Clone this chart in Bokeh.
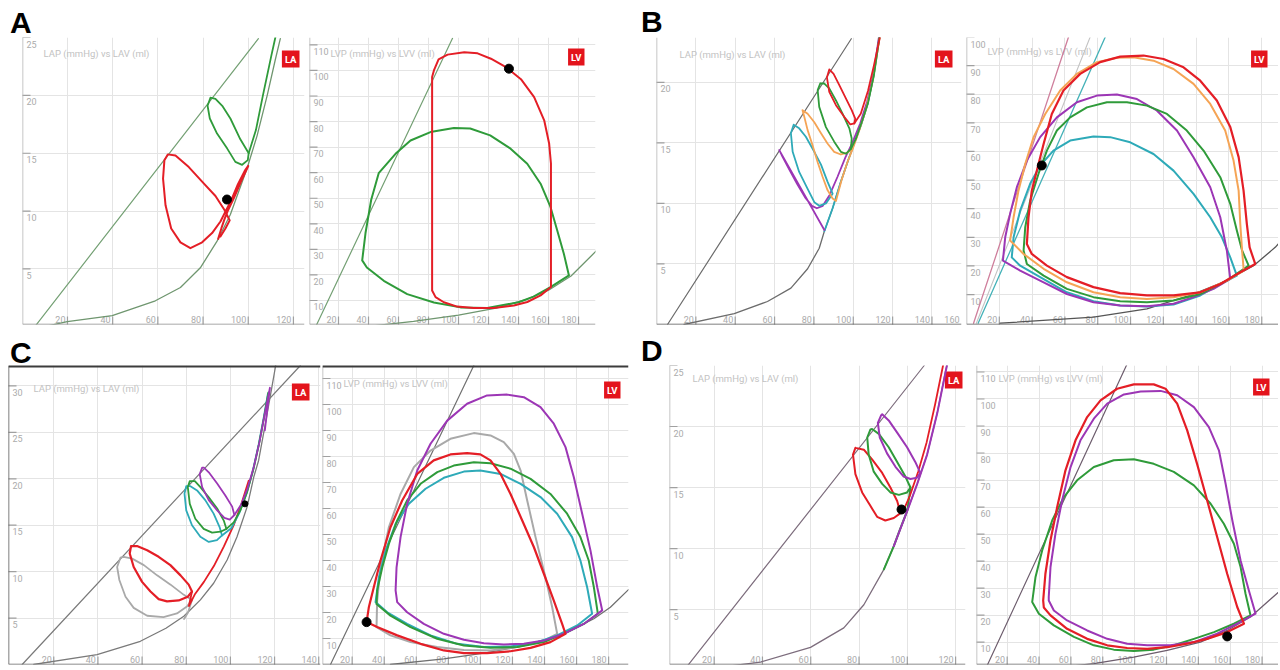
import math
from bokeh.plotting import figure
from bokeh.layouts import column, row
from bokeh.models import Div, Span, FixedTicker, Range1d
from bokeh.core.properties import value
from bokeh.embed import file_html
from bokeh.resources import INLINE

# ---------------- tick values ----------------
LA_X_TICKS_A = [20, 40, 60, 80, 100, 120]
LA_Y_TICKS_A = [5, 10, 15, 20, 25]
LV_X_TICKS = [20, 40, 60, 80, 100, 120, 140, 160, 180]
LV_Y_TICKS_110 = [10, 20, 30, 40, 50, 60, 70, 80, 90, 100, 110]
LV_Y_TICKS_100 = [10, 20, 30, 40, 50, 60, 70, 80, 90, 100]
LA_X_TICKS_B = [20, 40, 60, 80, 100, 120, 140, 160]
LA_Y_TICKS_B = [5, 10, 15, 20]
LA_X_TICKS_C = [20, 40, 60, 80, 100, 120, 140]
LA_Y_TICKS_C = [5, 10, 15, 20, 25, 30]
LA_X_TICKS_D = [20, 40, 60, 80, 100, 120]
LA_Y_TICKS_D = [5, 10, 15, 20, 25]

# ---------------- panel A ----------------
A_LA_ESPVR = [(5.5, 0.0), (104.5, 24.9)]
A_LA_EDPVR = [(9.5, 0.0), (19.9, 0.45), (39.8, 0.97), (58.9, 2.25), (70.0, 3.4), (78.8, 5.1),
              (86.2, 7.4), (92.1, 9.7), (99.5, 13.7), (103.9, 16.5), (108.4, 20.0), (112.0, 23.1), (114.2, 24.9)]
A_LA_GREEN = [(83.3, 19.8), (82.0, 19.1), (83.0, 18.0), (86.2, 16.7), (90.7, 15.4), (94.3, 14.25), (97.3, 14.0),
              (99.8, 14.4), (100.2, 15.0), (96.5, 16.2), (92.1, 18.0), (88.5, 19.1), (85.5, 19.7), (83.3, 19.8)]
A_LA_GREEN_FILL = [(100.2, 15.0), (103.4, 17.0), (106.5, 20.0), (110.3, 23.5), (112.0, 25.0)]
A_LA_RED = [(86.7, 7.6), (88.1, 8.5), (89.5, 9.3), (90.9, 10.0), (93.6, 11.1), (96.9, 12.6), (100.0, 13.9),
            (98.5, 13.5), (95.4, 12.3), (92.4, 10.9), (90.0, 10.0), (87.7, 9.1), (84.0, 8.1), (79.6, 7.3),
            (74.4, 6.8), (70.0, 7.3), (65.9, 8.5), (63.4, 10.5), (62.3, 12.8), (62.9, 14.4), (64.4, 14.9),
            (67.8, 14.8), (73.7, 13.8), (80.3, 12.4), (85.5, 11.3), (89.5, 10.1), (91.8, 9.2), (89.9, 8.5), (87.7, 7.8)]
A_LA_DOT = [(90.6, 11.0)]

A_LV_ESPVR = [(5.0, 0.0), (96.0, 112.6)]
A_LV_EDPVR = [(42, 0.0), (70, 1.8), (100, 4.3), (125, 7.0), (145, 10.3), (160, 14.0), (175, 19.6), (192, 29.5)]
A_LV_GREEN = [(35.8, 25.7), (38.0, 36.4), (41.8, 49.4), (46.8, 59.8), (58.0, 67.4), (68.0, 72.6), (81.3, 75.9),
              (96.9, 77.5), (107.8, 77.3), (121.1, 74.6), (134.7, 69.4), (145.8, 63.5), (154.7, 55.7),
              (161.3, 46.6), (165.8, 37.4), (170.2, 28.3), (173.6, 19.8), (161.6, 15.3), (150.0, 11.5),
              (140.0, 9.3), (119.1, 7.1), (101.3, 7.3), (83.6, 9.2), (65.8, 12.5), (50.2, 17.7), (38.9, 22.9), (35.8, 25.7)]
A_LV_RED = [(82.4, 13.9), (82.4, 97.4), (83.6, 100.0), (86.7, 104.3), (92.7, 106.2), (103.8, 107.1),
            (112.7, 106.7), (121.6, 104.6), (131.6, 101.3), (141.6, 96.6), (150.4, 89.6), (157.1, 80.5),
            (160.4, 71.4), (161.6, 63.6), (161.6, 15.3), (154.7, 12.0), (145.8, 9.4), (136.9, 8.0),
            (123.6, 7.1), (110.2, 7.1), (99.1, 7.6), (90.2, 9.3), (84.7, 11.3), (82.4, 13.9)]
A_LV_DOT = [(133.6, 100.7)]

# ---------------- panel B ----------------
B_LA_ESPVR = [(5.6, 0.0), (99.0, 23.6)]
B_LA_EDPVR = [(14, 0.0), (39.5, 0.9), (56.4, 1.9), (68.3, 3.0), (76.8, 4.6), (82.7, 6.3), (85.3, 7.7),
              (89.5, 9.6), (93.5, 11.7), (97.5, 13.6), (100.8, 15.1), (104.0, 16.5), (107.3, 18.2),
              (110.3, 20.5), (113.2, 23.7)]
B_LA_TEAL_FILL = [(85.3, 7.7), (89.5, 9.6), (93.5, 11.7), (97.5, 13.6), (100.8, 15.1), (104.0, 16.5),
                  (107.3, 18.2), (110.3, 20.5), (113.2, 23.7)]
B_LA_PURPLE = [(85.3, 7.8), (62.4, 14.4), (63.6, 14.0), (67.5, 12.8), (71.5, 11.6), (75.5, 10.5), (79.0, 9.8),
               (81.5, 9.6), (84.5, 9.8), (88.0, 10.7), (92.0, 12.2), (96.0, 13.8), (99.5, 15.0),
               (103.5, 16.6), (107.0, 18.4), (110.2, 20.6), (113.0, 23.7)]
B_LA_TEAL = [(69.7, 16.5), (68.3, 15.8), (69.2, 14.26), (72.5, 12.6), (76.8, 11.2), (80.2, 10.1), (82.7, 9.8),
             (86.1, 10.0), (89.5, 10.8), (86.9, 11.8), (83.6, 13.2), (80.2, 14.26), (75.9, 15.5), (72.5, 16.2), (69.7, 16.5)]
B_LA_ORANGE = [(99.7, 14.5), (97.0, 13.4), (94.0, 11.9), (91.2, 10.2), (89.5, 10.4), (86.9, 11.1), (84.4, 12.2),
               (81.9, 13.4), (79.3, 14.8), (76.8, 16.05), (75.1, 17.15), (74.2, 17.7), (76.8, 17.4), (80.2, 16.7),
               (83.6, 15.8), (86.9, 14.95), (90.3, 14.26), (93.7, 14.04), (97.1, 14.2), (99.7, 14.5),
               (103.0, 16.0), (106.5, 17.8), (110.0, 20.2), (113.4, 23.7)]
B_LA_GREEN = [(83.2, 19.9), (81.9, 19.35), (82.7, 17.97), (86.1, 16.3), (90.3, 15.1), (93.7, 14.26), (96.3, 14.1),
              (98.8, 14.5), (99.2, 15.36), (98.0, 16.2), (94.6, 17.4), (91.2, 18.5), (87.8, 19.5), (85.3, 19.9), (83.2, 19.9)]
B_LA_GREEN_FILL = [(98.8, 14.5), (101.5, 15.4), (104.5, 16.8), (107.5, 18.3), (110.5, 20.6), (113.3, 23.7)]
B_LA_RED = [(87.8, 21.06), (86.6, 20.4), (87.8, 19.21), (91.2, 18.11), (95.4, 17.15), (98.5, 16.52), (100.5, 16.6),
            (101.0, 17.0), (99.2, 17.7), (96.3, 18.66), (92.9, 19.76), (90.0, 20.7), (87.8, 21.06)]
B_LA_RED_FILL = [(100.5, 16.6), (103.8, 17.4), (107.5, 19.3), (110.5, 21.4), (113.5, 23.7)]

B_LV_ESPVR_PINK = [(4.3, 0.0), (62.2, 100.0)]
B_LV_ESPVR_GREY = [(6.0, 0.0), (75.4, 100.0)]
B_LV_ESPVR_TEAL = [(7.1, 0.0), (84.6, 100.0)]
B_LV_EDPVR = [(20.5, 0.0), (77.4, 2.1), (110.0, 5.0), (138.4, 10.2), (158.7, 14.9), (175.0, 20.1), (188.2, 26.5),
              (192.0, 29.0)]
B_LV_TEAL = [(27.6, 23.0), (28.7, 30.0), (32.7, 39.3), (38.8, 48.7), (44.9, 55.1), (53.0, 60.3), (63.2, 63.8),
             (77.4, 65.2), (87.6, 65.0), (99.8, 63.2), (114.0, 59.1), (126.2, 53.3), (138.4, 45.2), (148.6, 37.0),
             (155.7, 30.0), (160.8, 23.0), (164.8, 16.6), (154.7, 13.7), (142.5, 9.7), (126.2, 6.5), (110.0, 5.8),
             (93.7, 6.2), (77.4, 7.7), (61.2, 10.8), (44.9, 16.1), (32.7, 20.1), (27.6, 23.0)]
B_LV_PURPLE = [(22.2, 21.9), (23.6, 30.0), (26.6, 38.2), (30.7, 47.5), (36.8, 56.8), (44.9, 65.0), (55.1, 71.9),
               (67.3, 77.2), (79.5, 79.5), (91.7, 79.9), (103.9, 78.3), (116.0, 74.3), (128.3, 67.3),
               (138.4, 58.0), (148.6, 47.5), (154.7, 37.0), (158.7, 25.4), (160.8, 15.5), (150.6, 12.0),
               (138.4, 9.1), (126.2, 6.8), (110.0, 5.9), (93.7, 6.2), (77.4, 7.3), (61.2, 10.2), (47.0, 14.3),
               (32.7, 18.4), (22.2, 21.9)]
B_LV_GREEN = [(34.8, 25.4), (35.8, 33.5), (38.8, 42.8), (43.9, 52.2), (49.0, 60.3), (55.1, 67.3), (63.2, 71.9),
              (73.4, 75.4), (85.6, 77.2), (97.8, 77.2), (110.0, 76.0), (122.2, 73.1), (134.3, 67.3), (144.5, 60.3),
              (154.7, 51.0), (160.8, 41.7), (164.8, 32.4), (168.0, 25.4), (172.0, 20.1), (158.7, 14.9),
              (142.5, 10.2), (126.2, 7.9), (110.0, 7.3), (93.7, 7.7), (77.4, 9.1), (61.2, 12.0), (47.0, 16.6),
              (36.8, 20.7), (34.8, 25.4)]
B_LV_ORANGE = [(26.6, 28.9), (28.7, 37.0), (31.7, 46.3), (35.8, 55.6), (40.9, 65.0), (48.0, 73.1), (57.1, 81.3),
               (67.3, 87.1), (79.5, 91.2), (91.7, 92.7), (101.8, 92.9), (114.0, 91.7), (126.2, 88.8),
               (138.4, 83.6), (148.6, 76.6), (157.7, 67.3), (162.8, 56.8), (165.9, 46.3), (166.9, 34.7),
               (168.0, 25.4), (169.0, 18.4), (158.7, 14.9), (142.5, 10.8), (126.2, 9.1), (110.0, 8.5),
               (93.7, 9.1), (77.4, 10.8), (61.2, 14.3), (47.0, 19.0), (34.8, 24.2), (26.6, 28.9)]
B_LV_RED = [(36.8, 27.7), (37.8, 37.0), (39.8, 46.3), (43.9, 55.6), (47.0, 62.6), (52.0, 73.1), (59.1, 81.3),
            (69.3, 87.1), (81.5, 91.2), (93.7, 93.1), (107.9, 93.5), (120.1, 92.3), (132.3, 89.4), (142.5, 84.7),
            (152.6, 77.8), (160.8, 68.5), (165.9, 58.0), (168.9, 46.3), (170.9, 34.7), (172.6, 26.5),
            (176.0, 20.7), (166.9, 17.8), (154.7, 13.7), (142.5, 10.8), (126.2, 9.7), (110.0, 9.7),
            (93.7, 10.5), (77.4, 12.6), (61.2, 16.1), (49.0, 20.1), (39.8, 24.2), (36.8, 27.7)]
B_LV_DOT = [(45.9, 55.1)]

# ---------------- panel C ----------------
C_LA_ESPVR = [(5.7, 0.0), (131.7, 32.2)]
C_LA_EDPVR = [(10.9, 0.0), (39.6, 1.07), (59.2, 2.5), (70.8, 3.9), (78.9, 5.2), (86.4, 6.96), (92.4, 8.75),
              (98.5, 11.25), (103.0, 13.75), (107.6, 17.0), (110.6, 20.2), (112.8, 22.0), (115.5, 25.5),
              (118.2, 29.1), (120.5, 32.2)]
C_LA_GRAY = [(50.2, 11.5), (48.7, 10.5), (49.7, 9.1), (52.5, 7.3), (56.2, 6.1), (62.3, 5.25), (69.7, 5.1),
             (75.8, 5.5), (80.3, 6.25), (82.6, 6.96), (78.9, 7.5), (72.9, 8.6), (66.8, 9.6), (60.8, 10.7),
             (55.5, 11.4), (51.7, 11.6), (50.2, 11.5)]
C_LA_GRAY_FILL = [(82.6, 6.96), (80.8, 5.6), (79.0, 4.9)]
C_LA_RED = [(55.0, 12.75), (54.4, 11.96), (56.2, 10.5), (60.0, 8.9), (63.8, 7.86), (67.5, 7.04), (71.3, 6.8),
            (76.6, 6.9), (80.7, 7.3), (82.6, 7.86), (81.1, 8.6), (77.4, 9.6), (72.8, 10.7), (67.5, 11.6),
            (62.3, 12.3), (57.7, 12.75), (55.0, 12.75)]
C_LA_RED_FILL = [(82.6, 7.86), (81.2, 6.3), (84.0, 7.6), (88.0, 8.9), (92.5, 10.6), (97.0, 12.7),
                 (101.5, 15.0), (105.0, 17.3), (108.3, 19.8)]
C_LA_TEAL = [(80.0, 19.2), (79.2, 18.4), (80.0, 16.6), (82.6, 15.0), (86.4, 13.75), (90.2, 13.2), (93.9, 13.4),
             (96.2, 13.9), (95.1, 14.8), (92.4, 16.25), (88.6, 17.7), (84.9, 18.75), (81.9, 19.2), (80.0, 19.2)]
C_LA_TEAL_FILL = [(96.2, 13.9), (100.5, 14.7), (104.0, 16.3), (107.3, 18.4), (110.2, 20.9), (112.8, 23.7),
                  (115.1, 26.6), (117.0, 29.2)]
C_LA_GREEN = [(81.6, 19.75), (80.7, 19.1), (81.6, 17.3), (84.1, 15.7), (87.9, 14.6), (91.7, 14.2), (95.5, 14.3),
              (98.2, 14.6), (97.0, 15.5), (94.0, 16.8), (90.2, 18.0), (86.4, 19.1), (83.9, 19.75), (81.6, 19.75)]
C_LA_GREEN_FILL = [(98.2, 14.6), (101.5, 15.3), (104.5, 16.6), (107.6, 18.6), (110.4, 21.0), (113.0, 23.8),
                   (115.3, 26.7), (117.2, 29.3)]
C_LA_PURPLE = [(87.2, 21.2), (86.1, 20.5), (87.2, 19.1), (90.2, 17.7), (94.0, 16.6), (97.3, 15.8), (99.7, 15.6),
               (101.8, 16.1), (100.8, 17.0), (97.7, 18.2), (94.0, 19.5), (90.2, 20.7), (88.0, 21.2), (87.2, 21.2)]
C_LA_PURPLE_FILL = [(101.8, 16.1), (104.8, 17.2), (107.8, 19.0), (110.6, 21.3), (113.2, 24.0), (115.5, 26.9),
                    (117.9, 29.8), (116.8, 27.6), (115.6, 25.2)]
C_LA_DOT = [(106.6, 17.3)]

C_LV_ESPVR = [(6.5, 0.0), (95.9, 115.0)]
C_LV_EDPVR = [(43.9, 0.0), (77.2, 2.2), (102.2, 4.4), (123.0, 6.7), (139.6, 9.2), (154.2, 12.4), (170.8, 17.6),
              (181.1, 22.0), (192.4, 28.8)]
C_LV_GRAY = [(35.2, 14.4), (35.6, 24.6), (37.7, 37.4), (42.9, 52.8), (50.2, 65.6), (58.5, 75.9), (68.9, 82.3),
             (81.3, 86.8), (95.9, 89.0), (106.3, 88.1), (114.6, 85.5), (120.9, 81.0), (125.1, 74.6), (129.2, 63.1),
             (134.4, 49.0), (140.6, 33.6), (144.8, 22.0), (147.9, 11.8), (139.6, 9.2), (123.0, 6.7), (106.3, 5.4),
             (89.7, 5.6), (73.0, 6.7), (56.4, 8.6), (43.9, 11.2), (35.2, 14.4)]
C_LV_TEAL = [(34.6, 24.0), (36.7, 33.6), (40.9, 43.8), (47.1, 54.1), (55.4, 61.8), (65.8, 67.6), (77.2, 71.8),
             (89.7, 74.2), (100.0, 74.6), (112.6, 73.3), (125.1, 69.5), (137.5, 64.4), (147.9, 58.0), (157.2, 49.0),
             (162.4, 40.0), (166.6, 29.7), (169.7, 19.5), (160.4, 15.0), (147.9, 11.2), (135.4, 8.6), (118.8, 6.9),
             (102.2, 6.7), (85.5, 7.95), (68.9, 11.2), (54.3, 15.6), (41.9, 20.1), (34.6, 24.0)]
C_LV_GREEN = [(35.2, 23.3), (35.6, 28.5), (38.8, 37.4), (42.9, 46.4), (48.1, 55.4), (54.3, 63.1), (62.7, 69.5),
              (73.1, 74.0), (83.4, 76.5), (95.9, 77.8), (106.3, 77.4), (118.8, 75.3), (131.3, 71.4), (143.7, 65.6),
              (154.1, 58.0), (162.4, 49.0), (167.6, 40.0), (170.8, 29.7), (173.3, 19.5), (164.5, 15.6),
              (152.0, 11.8), (139.6, 8.6), (123.0, 6.7), (106.3, 6.4), (89.7, 7.3), (73.0, 9.9), (56.4, 14.4),
              (43.9, 18.8), (35.2, 23.3)]
C_LV_PURPLE = [(47.1, 28.5), (47.7, 37.4), (50.2, 49.0), (54.3, 61.8), (60.6, 74.6), (68.9, 84.9), (79.3, 93.8),
               (91.7, 100.3), (104.2, 103.5), (116.7, 103.8), (127.1, 102.8), (137.5, 99.0), (145.8, 92.6),
               (153.1, 83.6), (158.3, 72.0), (163.5, 58.0), (168.7, 43.8), (172.9, 29.7), (176.0, 20.8),
               (164.5, 15.6), (152.0, 11.8), (139.6, 9.2), (127.1, 7.95), (114.6, 7.7), (102.2, 8.2), (89.7, 9.5),
               (77.2, 11.8), (64.7, 15.6), (54.3, 20.1), (48.1, 24.0), (47.1, 28.5)]
C_LV_RED = [(29.0, 16.3), (30.4, 22.0), (33.5, 29.7), (37.7, 40.0), (43.9, 52.8), (51.2, 63.1), (60.6, 73.3),
            (70.9, 78.5), (81.3, 80.8), (91.7, 81.3), (100.0, 80.8), (106.3, 78.5), (112.6, 73.3), (118.8, 65.6),
            (126.1, 55.4), (133.4, 45.1), (139.6, 34.9), (145.8, 24.6), (151.0, 15.6), (153.1, 11.8),
            (143.7, 8.6), (131.3, 6.4), (118.8, 5.1), (104.2, 4.4), (89.7, 4.4), (77.2, 5.4), (62.7, 7.95),
            (48.1, 11.2), (35.6, 14.4), (29.0, 16.3)]
C_LV_DOT = [(29.0, 16.3)]

# ---------------- panel D ----------------
D_LA_ESPVR = [(7.4, 0.0), (107.0, 25.0)]
D_LA_EDPVR = [(11.6, 0.0), (39.2, 0.7), (59.9, 1.9), (73.7, 3.5), (82.0, 5.4), (90.3, 8.3), (94.4, 10.2),
              (100.0, 13.1), (104.1, 15.3), (108.2, 17.7), (112.4, 21.1), (115.8, 24.5), (116.4, 25.0)]
D_LA_GREEN_FILL = [(101.3, 15.0), (100.0, 13.1), (97.0, 11.6), (94.4, 10.2), (90.3, 8.3)]
D_LA_PURPLE_FILL = [(94.4, 10.2), (100.0, 13.1), (104.1, 15.3), (108.2, 17.7), (112.4, 21.1), (116.4, 25.0)]
D_LA_RED_FILL = [(97.9, 12.9), (101.0, 14.3), (104.5, 16.3), (108.0, 18.7), (111.5, 21.8), (114.8, 25.0)]
D_LA_RED = [(78.5, 18.25), (77.5, 17.7), (78.5, 16.1), (81.3, 14.6), (84.7, 13.5), (87.5, 12.6), (90.9, 12.3),
            (94.4, 12.5), (97.2, 12.9), (95.8, 13.9), (93.0, 15.0), (89.6, 16.2), (85.4, 17.3), (82.0, 18.1), (78.5, 18.25)]
D_LA_GREEN = [(84.7, 19.75), (83.4, 19.1), (84.0, 17.7), (86.1, 16.3), (89.6, 15.3), (93.0, 14.6), (96.5, 14.4),
              (99.9, 14.6), (101.3, 15.0), (99.2, 15.9), (95.8, 17.1), (92.3, 18.3), (88.2, 19.4), (85.4, 19.8), (84.7, 19.75)]
D_LA_PURPLE = [(89.1, 20.9), (87.8, 20.3), (88.6, 19.1), (91.6, 17.8), (95.1, 16.7), (98.5, 15.9), (101.3, 15.7),
               (104.0, 15.8), (105.4, 16.2), (103.3, 17.1), (99.9, 18.3), (95.8, 19.5), (92.3, 20.5), (89.6, 21.0), (89.1, 20.9)]
D_LA_DOT = [(97.6, 13.2)]

D_LV_ESPVR = [(6.4, 0.0), (95.3, 113.0)]
D_LV_EDPVR = [(43.0, 0.0), (74.4, 2.0), (99.4, 4.4), (120.4, 6.9), (141.3, 10.0), (158.1, 14.3), (172.7, 19.3),
              (191.5, 29.1)]
D_LV_GREEN = [(35.7, 24.8), (37.8, 34.1), (42.0, 44.0), (48.3, 55.1), (55.6, 63.7), (63.9, 69.9), (74.4, 74.8),
              (86.9, 77.3), (99.5, 77.7), (112.0, 76.0), (124.6, 73.0), (137.2, 68.0), (147.7, 61.2), (156.0, 53.8),
              (162.3, 46.4), (166.5, 37.8), (169.6, 27.9), (172.7, 19.9), (162.3, 16.8), (149.8, 13.7),
              (137.2, 11.2), (124.6, 8.8), (112.0, 7.2), (99.5, 6.7), (86.9, 7.2), (74.4, 8.8), (61.9, 11.9),
              (49.3, 16.2), (39.9, 20.5), (35.7, 24.8)]
D_LV_PURPLE = [(46.1, 26.7), (47.2, 37.8), (50.3, 50.1), (54.5, 62.5), (59.8, 74.8), (66.0, 84.7), (74.4, 92.7),
               (82.8, 98.3), (93.3, 101.7), (103.8, 102.8), (116.3, 103.0), (126.7, 101.4), (137.2, 97.0),
               (146.6, 89.6), (152.9, 81.0), (157.1, 68.6), (161.3, 55.1), (166.5, 40.2), (171.7, 29.1),
               (175.9, 20.5), (164.4, 16.8), (151.8, 13.1), (137.2, 10.0), (122.5, 8.8), (107.9, 8.8), (95.3, 9.4),
               (82.8, 11.2), (70.2, 14.3), (57.6, 18.0), (49.3, 21.7), (46.1, 25.4), (46.1, 26.7)]
D_LV_RED = [(42.6, 25.4), (44.0, 35.3), (47.2, 47.7), (51.4, 60.0), (56.6, 73.6), (62.9, 84.7), (70.2, 93.3),
            (78.6, 99.5), (89.0, 103.8), (99.5, 105.4), (112.0, 105.4), (119.4, 103.8), (126.7, 98.3), (133.0, 88.4),
            (139.2, 76.0), (145.5, 62.5), (151.8, 48.9), (158.1, 35.3), (164.4, 23.0), (168.6, 16.8),
            (158.1, 13.7), (145.5, 11.2), (133.0, 9.4), (120.4, 8.1), (107.9, 7.5), (95.3, 7.8), (82.8, 8.8),
            (70.2, 11.2), (57.6, 14.9), (47.2, 19.9), (43.0, 22.8), (42.6, 25.4)]
D_LV_DOT = [(158.1, 12.1)]

# ---------------- styling ----------------
RED = "#e41e26"
GREEN = "#2f9b3a"
ORANGE = "#f5a455"
PURPLE = "#9c36b5"
TEAL = "#2eaab8"
GREY = "#a9a9a9"
FONT = value("Roboto")


def xs(pts):
    return [p[0] for p in pts]


def ys(pts):
    return [p[1] for p in pts]


def make(frame_w, frame_h, xr, yr, mb, xt, yt, title, title_off, tag, tag_off,
         left_col="#b4b4b4", bottom_col="#8c8c8c"):
    l, r, t, b = mb
    p = figure(width=l + frame_w + r, height=t + frame_h + b, frame_width=frame_w, frame_height=frame_h,
               x_range=Range1d(*xr), y_range=Range1d(*yr),
               x_axis_location=None, y_axis_location=None,
               output_backend="svg", toolbar_location=None,
               min_border_left=l, min_border_right=r, min_border_top=t, min_border_bottom=b)
    p.outline_line_color = None
    p.background_fill_color = "white"
    p.border_fill_color = "white"
    p.xgrid.ticker = FixedTicker(ticks=xt)
    p.ygrid.ticker = FixedTicker(ticks=yt)
    p.grid.grid_line_color = "#e4e4e4"
    p.grid.grid_line_width = 1
    # axis lines
    p.add_layout(Span(location=xr[0], dimension="height", line_color=left_col, line_width=1.5))
    p.add_layout(Span(location=yr[0], dimension="width", line_color=bottom_col, line_width=1.5))
    # tick marks
    p.scatter(x=[xr[0]] * len(yt), y=yt, marker="dash", size=16, line_color="#a0a0a0", line_width=1.2)
    p.scatter(x=xt, y=[yr[0]] * len(xt), marker="dash", angle=math.pi / 2, size=16,
              line_color="#a0a0a0", line_width=1.2)
    # tick labels (inside the frame), kept within the frame
    p.text(x=[xr[0]] * len(yt), y=[min(v, yr[1]) for v in yt], text=[str(v) for v in yt],
           text_font=FONT, text_font_size="9px",
           text_color="#ababab", text_baseline="top", x_offset=4, y_offset=3)
    p.text(x=[min(v, xr[1]) for v in xt], y=[yr[0]] * len(xt), text=[str(v) for v in xt],
           text_font=FONT, text_font_size="9px",
           text_color="#ababab", text_align="right", text_baseline="bottom", x_offset=-2, y_offset=-2)
    # chart title
    p.text(x=[xr[0]], y=[yr[1]], text=[title], text_font=FONT, text_font_size="9.5px",
           text_color="#c2c2c2", text_baseline="top", x_offset=title_off[0], y_offset=title_off[1])
    # LA / LV tag
    p.text(x=[xr[1]], y=[yr[1]], text=[tag], text_font=FONT, text_font_size="9.5px", text_font_style="bold",
           text_color="white", text_align="right", text_baseline="top",
           x_offset=tag_off[0] - 3, y_offset=tag_off[1] + 3,
           background_fill_color="#e3141c", padding=3)
    return p


def curve(p, pts, color, w=2.0):
    p.line(xs(pts), ys(pts), line_color=color, line_width=w, line_join="round", line_cap="round")


def dot(p, pts, size=9):
    p.scatter(xs(pts), ys(pts), size=size, color="black")


LA_TITLE = "LAP (mmHg) vs LAV (ml)"
LV_TITLE = "LVP (mmHg) vs LVV (ml)"

# ---- row 1 ----
A_LA = make(282, 287, (0.1, 124.9), (0.2, 25.0), (22, 2, 0, 3), LA_X_TICKS_A, LA_Y_TICKS_A, LA_TITLE, (21, 10), "LA", (-2, 10))
curve(A_LA, A_LA_ESPVR, "#74a074", 1.2)
curve(A_LA, A_LA_EDPVR, "#6f966f", 1.3)
curve(A_LA, A_LA_GREEN_FILL, GREEN, 1.8)
curve(A_LA, A_LA_GREEN, GREEN, 1.8)
curve(A_LA, A_LA_RED, RED, 2.0)
dot(A_LA, A_LA_DOT)

A_LV = make(286, 287, (0.67, 191.3), (0.6, 112.9), (3, 40, 0, 3), LV_X_TICKS, LV_Y_TICKS_110, LV_TITLE, (21, 10), "LV", (-8, 8))
curve(A_LV, A_LV_ESPVR, "#74a074", 1.2)
curve(A_LV, A_LV_EDPVR, "#6f966f", 1.3)
curve(A_LV, A_LV_GREEN, GREEN, 2.0)
curve(A_LV, A_LV_RED, RED, 2.0)
dot(A_LV, A_LV_DOT)

B_LA = make(305, 287, (0, 155), (0, 23.7), (21, 2, 0, 3), LA_X_TICKS_B, LA_Y_TICKS_B, LA_TITLE, (23, 11), "LA", (-6, 10),
            bottom_col="#555555")
curve(B_LA, B_LA_ESPVR, "#6c6c6c", 1.2)
curve(B_LA, B_LA_EDPVR, "#6c6c6c", 1.3)
curve(B_LA, B_LA_TEAL_FILL, TEAL, 1.8)
curve(B_LA, B_LA_PURPLE, PURPLE, 1.8)
curve(B_LA, B_LA_TEAL, TEAL, 1.8)
curve(B_LA, B_LA_ORANGE, ORANGE, 1.8)
curve(B_LA, B_LA_GREEN, GREEN, 1.8)
curve(B_LA, B_LA_GREEN_FILL, GREEN, 1.8)
curve(B_LA, B_LA_RED, RED, 1.8)
curve(B_LA, B_LA_RED_FILL, RED, 1.8)

B_LV = make(312, 287, (0, 190.2), (-0.45, 99.8), (3, 0, 0, 3), LV_X_TICKS, LV_Y_TICKS_100, LV_TITLE, (21, 8), "LV", (-8, 10),
            bottom_col="#555555")
curve(B_LV, B_LV_ESPVR_PINK, "#cf7f9c", 1.3)
curve(B_LV, B_LV_ESPVR_GREY, "#c4c4c4", 1.1)
curve(B_LV, B_LV_ESPVR_TEAL, "#45b2b8", 1.3)
curve(B_LV, B_LV_EDPVR, "#555555", 1.3)
curve(B_LV, B_LV_TEAL, TEAL, 2.0)
curve(B_LV, B_LV_PURPLE, PURPLE, 2.0)
curve(B_LV, B_LV_GREEN, GREEN, 2.0)
curve(B_LV, B_LV_ORANGE, ORANGE, 2.0)
curve(B_LV, B_LV_RED, RED, 2.2)
dot(B_LV, B_LV_DOT)

# ---- row 2 ----
C_LA = make(312, 299, (-0.5, 140.8), (0, 32.2), (8, 2, 2, 3), LA_X_TICKS_C, LA_Y_TICKS_C, LA_TITLE, (25, 17), "LA", (-8, 15),
            left_col="#555555", bottom_col="#666666")
C_LA.add_layout(Span(location=32.2, dimension="width", line_color="#3c3c3c", line_width=4))
curve(C_LA, C_LA_ESPVR, "#7a7a7a", 1.2)
curve(C_LA, C_LA_EDPVR, "#7a7a7a", 1.3)
curve(C_LA, C_LA_GRAY, GREY, 1.8)
curve(C_LA, C_LA_GRAY_FILL, GREY, 1.8)
curve(C_LA, C_LA_RED_FILL, RED, 1.8)
curve(C_LA, C_LA_RED, RED, 2.2)
curve(C_LA, C_LA_TEAL, TEAL, 1.8)
curve(C_LA, C_LA_TEAL_FILL, TEAL, 1.8)
curve(C_LA, C_LA_GREEN, GREEN, 1.8)
curve(C_LA, C_LA_GREEN_FILL, GREEN, 1.8)
curve(C_LA, C_LA_PURPLE, PURPLE, 1.8)
curve(C_LA, C_LA_PURPLE_FILL, PURPLE, 1.8)
dot(C_LA, C_LA_DOT, 6)

C_LV = make(306, 299, (1.5, 192.4), (0, 115), (0, 41, 2, 3), LV_X_TICKS, LV_Y_TICKS_110, LV_TITLE, (21, 12), "LV", (-5, 13),
            bottom_col="#666666")
C_LV.add_layout(Span(location=115, dimension="width", line_color="#3c3c3c", line_width=4))
curve(C_LV, C_LV_ESPVR, "#707070", 1.2)
curve(C_LV, C_LV_EDPVR, "#707070", 1.3)
curve(C_LV, C_LV_GRAY, GREY, 2.0)
curve(C_LV, C_LV_TEAL, TEAL, 2.0)
curve(C_LV, C_LV_GREEN, GREEN, 2.0)
curve(C_LV, C_LV_PURPLE, PURPLE, 2.0)
curve(C_LV, C_LV_RED, RED, 2.2)
dot(C_LV, C_LV_DOT)

D_LA = make(296, 299, (1.5, 124.1), (0.5, 25.0), (0, 2, 2, 3), LA_X_TICKS_D, LA_Y_TICKS_D, LA_TITLE, (23, 7), "LA", (0, 3),
            bottom_col="#666666")
curve(D_LA, D_LA_ESPVR, "#7d6d7d", 1.2)
curve(D_LA, D_LA_EDPVR, "#7d6d7d", 1.3)
curve(D_LA, D_LA_GREEN_FILL, GREEN, 2.0)
curve(D_LA, D_LA_PURPLE_FILL, PURPLE, 2.0)
curve(D_LA, D_LA_RED_FILL, RED, 1.8)
curve(D_LA, D_LA_RED, RED, 2.0)
curve(D_LA, D_LA_GREEN, GREEN, 2.0)
curve(D_LA, D_LA_PURPLE, PURPLE, 2.0)
dot(D_LA, D_LA_DOT)

D_LV = make(302, 299, (0.75, 190.3), (1.7, 112.4), (9, 0, 2, 3), LV_X_TICKS, LV_Y_TICKS_110, LV_TITLE, (22, 7), "LV", (-6, 10),
            bottom_col="#666666")
curve(D_LV, D_LV_ESPVR, "#6d5d6d", 1.2)
curve(D_LV, D_LV_EDPVR, "#6d5d6d", 1.3)
curve(D_LV, D_LV_GREEN, GREEN, 2.0)
curve(D_LV, D_LV_PURPLE, PURPLE, 2.0)
curve(D_LV, D_LV_RED, RED, 2.2)
dot(D_LV, D_LV_DOT)


def letters(items, height):
    spans = "".join(
        f'<span style="position:absolute;left:{x}px;top:{y}px;font-family:\'Liberation Sans\',Arial,sans-serif;'
        f'font-weight:bold;font-size:30px;line-height:30px;color:#000;">{t}</span>'
        for t, x, y in items)
    return Div(text=f'<div style="position:relative;width:1278px;height:{height}px;">{spans}</div>',
               width=1278, height=height, margin=0)


top_letters = letters([("A", 10, 8), ("B", 641, 7)], 37)
bottom_letters = letters([("C", 10, 11), ("D", 641, 9)], 36)

layout = column(top_letters,
                row(A_LA, A_LV, B_LA, B_LV, spacing=0),
                bottom_letters,
                row(C_LA, C_LV, D_LA, D_LV, spacing=0),
                spacing=0)

open("out.html", "w").write(file_html(layout, INLINE))
